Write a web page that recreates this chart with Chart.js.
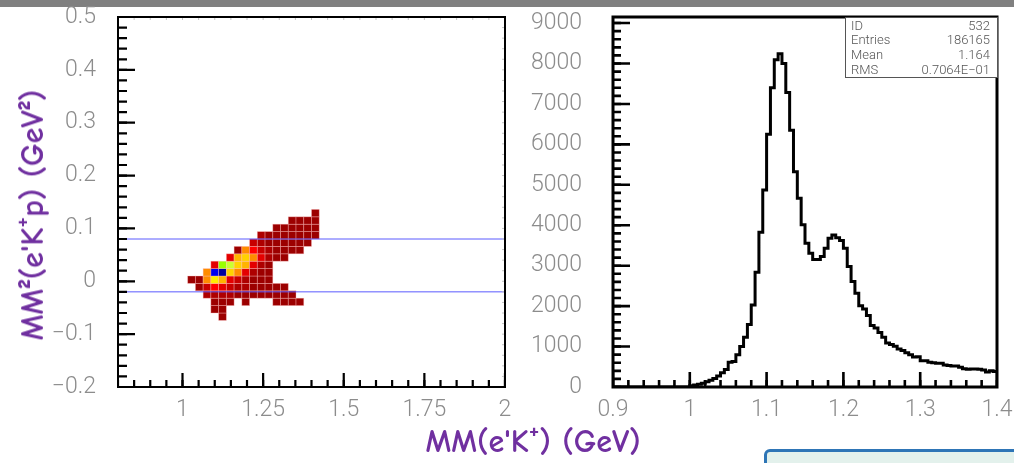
<!DOCTYPE html>
<html>
<head>
<meta charset="utf-8">
<script src="https://cdn.jsdelivr.net/npm/chart.js@4/dist/chart.umd.min.js"></script>
<style>
  html, body { margin: 0; padding: 0; background: #fff; }
  body { width: 1014px; height: 463px; position: relative; overflow: hidden; }
  #topbar { position: absolute; left: 0; top: 0; width: 1014px; height: 7px; background: #808080; }
  canvas { position: absolute; top: 0; }
  #cvMap { left: 0; }
  #cvHist { left: 510px; }
  .axtitle { position: absolute; color: #7030a0; font-family: "Comic Sans MS", "Comic Neue", Lato, sans-serif;
             font-size: 32px; font-weight: 700; white-space: nowrap; line-height: 1; }
  #ytitle { left: 33px; top: 215px; transform: translate(-50%, -50%) rotate(-90deg); }
  #xtitle { left: 533px; top: 442px; transform: translate(-50%, -50%); }
  #note { position: absolute; left: 764px; top: 449px; width: 300px; height: 60px;
          border: 3px solid #2e75b6; border-radius: 6px; background: #e3f1ec; }
</style>
</head>
<body>
<div id="topbar"></div>
<canvas id="cvMap" width="520" height="430"></canvas>
<canvas id="cvHist" width="504" height="430"></canvas>
<div class="axtitle" id="ytitle">MM²(e'K⁺p) (GeV²)</div>
<div class="axtitle" id="xtitle">MM(e'K⁺) (GeV)</div>
<div id="note"></div>

<script>
// ---------- 2D map: MM²(e'K+p) vs MM(e'K+), 50 x 50 bins ----------
const MM_LO = 0.8, MM_HI = 2.0, MM_NBIN = 50;
const MM2_LO = -0.2, MM2_HI = 0.5, MM2_NBIN = 50;

// one entry per filled MM² row: row bin, first MM bin, cell contents (0 = empty)
const mapRowBin   = [9, 10, 11, 12, 13, 14, 15, 16, 17, 18, 19, 20, 21, 22, 23];
const mapRowStart = [13, 12, 12, 11, 10, 9, 11, 12, 14, 15, 17, 18, 20, 22, 25];
const mapRowCells = [
  [1],
  [1, 1],
  [1, 1, 1, 0, 1, 0, 0, 0, 1, 1, 1, 1],
  [2, 2, 2, 2, 1, 1, 1, 1, 1, 1, 1, 1],
  [1, 3, 5, 4, 3, 2, 2, 1, 1, 1, 1, 1],
  [1, 1, 6, 9, 7, 4, 3, 2, 1, 1, 1],
  [6, 12, 13, 8, 6, 4, 2, 1, 1],
  [4, 11, 10, 8, 7, 4, 2, 1],
  [4, 7, 8, 6, 4, 2, 1, 1],
  [1, 6, 5, 3, 2, 1, 1, 1, 1],
  [3, 2, 1, 1, 1, 1, 1, 1],
  [2, 1, 1, 1, 1, 1, 1, 1],
  [1, 1, 1, 1, 1, 1],
  [1, 1, 1, 1],
  [1]
];
// MM² selection window
const mm2CutLow = -0.02, mm2CutHigh = 0.08;

const mapXTickValues = [1, 1.25, 1.5, 1.75, 2];
const mapXTickLabels = ['1', '1.25', '1.5', '1.75', '2'];
const mapYTickValues = [-0.2, -0.1, 0, 0.1, 0.2, 0.3, 0.4, 0.5];
const mapYTickLabels = ['\u22120.2', '\u22120.1', '0', '0.1', '0.2', '0.3', '0.4', '0.5'];

// ---------- 1D histogram: MM(e'K+), 100 bins 0.9–1.4 ----------
const HIST_LO = 0.9, HIST_HI = 1.4, HIST_NBIN = 100;
const histCounts = [
  0, 0, 0, 0, 0, 0, 0, 0, 0, 0,
  0, 0, 0, 0, 0, 0, 0, 0, 0, 0,
  30, 50, 70, 90, 130, 170, 210, 270, 350, 430,
  610, 630, 795, 1000, 1230, 1545, 2030, 2840, 3830, 4870,
  6250, 7400, 8090, 8240, 8000, 7280, 6350, 5325, 4670, 4010,
  3555, 3310, 3150, 3150, 3230, 3430, 3680, 3760, 3690, 3620,
  3430, 2980, 2610, 2320, 2010, 1930, 1770, 1520, 1460, 1350,
  1230, 1090, 1050, 1010, 940, 900, 850, 800, 740, 745,
  650, 650, 615, 600, 585, 585, 545, 530, 518, 518,
  490, 450, 436, 444, 444, 440, 420, 370, 400, 385
];
const HIST_YMAX = 9150;
const histXTickValues = [0.9, 1.0, 1.1, 1.2, 1.3, 1.4];
const histXTickLabels = ['0.9', '1', '1.1', '1.2', '1.3', '1.4'];
const histYTickValues = [0, 1000, 2000, 3000, 4000, 5000, 6000, 7000, 8000, 9000];
const histYTickLabels = ['0', '1000', '2000', '3000', '4000', '5000', '6000', '7000', '8000', '9000'];

const statLabels = ['ID', 'Entries', 'Mean', 'RMS'];
const statValues = ['532', '186165', '1.164', '0.7064E\u221201'];

// colour scale of the map, indexed by cell content level
const levelColors = [null, '#9c0000', '#ae0000', '#c80000', '#e40000', '#ff0000',
  '#ff8c00', '#ffb400', '#ffd200', '#ffee00', '#ccff30', '#99ff00', '#0000f0', '#00009c'];

// ---------- helpers ----------
function stepRange(lo, hi, step) {
  const out = [];
  const n = Math.round((hi - lo) / step);
  for (let k = 0; k <= n; k++) out.push(lo + k * step);
  return out;
}

const TICK_FONT = { family: 'Roboto, "DejaVu Sans", sans-serif', size: 23, weight: 300 };
const TICK_COLOR = '#8c8c8c';

// frame and inward tick marks drawn through the chart's own scales
function frameTicks(cfg) {
  return {
    id: 'frameTicks',
    afterDraw(chart) {
      const { ctx, chartArea: a, scales: { x, y } } = chart;
      ctx.save();
      ctx.beginPath();
      ctx.rect(a.left, a.top, a.width, a.height);
      ctx.clip();
      ctx.strokeStyle = '#000';
      ctx.lineCap = 'butt';
      const xt = (vals, len, w) => {
        ctx.lineWidth = w; ctx.beginPath();
        vals.forEach(v => { const p = x.getPixelForValue(v); ctx.moveTo(p, a.bottom); ctx.lineTo(p, a.bottom - len); });
        ctx.stroke();
      };
      const yt = (vals, len, w) => {
        ctx.lineWidth = w; ctx.beginPath();
        vals.forEach(v => { const p = y.getPixelForValue(v); ctx.moveTo(a.left, p); ctx.lineTo(a.left + len, p); });
        ctx.stroke();
      };
      xt(cfg.xMinor, cfg.xMinorLen, cfg.tickW);
      xt(cfg.xMajor, cfg.xMajorLen, cfg.tickW);
      yt(cfg.yMinor, cfg.yMinorLen, cfg.tickW);
      yt(cfg.yMajor, cfg.yMajorLen, cfg.tickW);
      if (cfg.faint) {
        ctx.strokeStyle = '#c4c4c4'; ctx.lineWidth = 1; ctx.beginPath();
        cfg.xMinor.forEach(v => { const p = x.getPixelForValue(v); ctx.moveTo(p, a.top); ctx.lineTo(p, a.top + 3); });
        cfg.yMinor.forEach(v => { const p = y.getPixelForValue(v); ctx.moveTo(a.right, p); ctx.lineTo(a.right - 3, p); });
        ctx.stroke();
      }
      ctx.restore();
      ctx.save();
      ctx.strokeStyle = '#000';
      ctx.lineWidth = cfg.frameW;
      ctx.strokeRect(a.left, a.top, a.width, a.height);
      ctx.restore();
    }
  };
}

function noScalePadding(s) {
  s.paddingTop = 0; s.paddingBottom = 0; s.paddingLeft = 0; s.paddingRight = 0;
}

// ---------- left: 2D map ----------
const MM_BIN = (MM_HI - MM_LO) / MM_NBIN;
const MM2_BIN = (MM2_HI - MM2_LO) / MM2_NBIN;
const mapCells = [];
mapRowBin.forEach((j, r) => {
  mapRowCells[r].forEach((z, c) => {
    if (z > 0) {
      const i = mapRowStart[r] + c;
      mapCells.push({ x: MM_LO + (i + 0.5) * MM_BIN, y: MM2_LO + (j + 0.5) * MM2_BIN, z: z });
    }
  });
});

const cellPainter = {
  id: 'cellPainter',
  beforeDatasetsDraw(chart) {
    const { ctx, chartArea: a, scales: { x, y } } = chart;
    const data = chart.data.datasets[0].data;
    ctx.save();
    ctx.beginPath(); ctx.rect(a.left, a.top, a.width, a.height); ctx.clip();
    data.forEach(c => {
      const x0 = x.getPixelForValue(c.x - MM_BIN / 2), x1 = x.getPixelForValue(c.x + MM_BIN / 2);
      const y0 = y.getPixelForValue(c.y + MM2_BIN / 2), y1 = y.getPixelForValue(c.y - MM2_BIN / 2);
      ctx.fillStyle = levelColors[c.z];
      ctx.fillRect(x0, y0, x1 - x0, y1 - y0);
      ctx.strokeStyle = 'rgba(255,190,190,0.45)';
      ctx.lineWidth = 0.8;
      ctx.strokeRect(x0, y0, x1 - x0, y1 - y0);
    });
    ctx.restore();
  }
};

new Chart(document.getElementById('cvMap'), {
  type: 'scatter',
  data: {
    datasets: [
      { data: mapCells, pointRadius: 0, showLine: false },
      { data: [{ x: MM_LO, y: mm2CutHigh }, { x: MM_HI, y: mm2CutHigh }], showLine: true,
        borderColor: '#5a5aff', borderWidth: 1, pointRadius: 0 },
      { data: [{ x: MM_LO, y: mm2CutLow }, { x: MM_HI, y: mm2CutLow }], showLine: true,
        borderColor: '#5a5aff', borderWidth: 1, pointRadius: 0 }
    ]
  },
  options: {
    responsive: false, animation: false, devicePixelRatio: 1,
    layout: { autoPadding: false, padding: { top: 17, right: 15, bottom: 0, left: 0 } },
    plugins: { legend: { display: false }, tooltip: { enabled: false } },
    scales: {
      x: {
        type: 'linear', min: MM_LO, max: MM_HI,
        grid: { display: false, drawTicks: false, tickLength: 0 }, border: { display: false },
        afterBuildTicks: s => { s.ticks = mapXTickValues.map(v => ({ value: v })); },
        afterFit: s => { s.height = 43; noScalePadding(s); },
        ticks: { autoSkip: false, maxRotation: 0, padding: 9, color: TICK_COLOR, font: TICK_FONT,
                 callback: (v, i) => mapXTickLabels[i] }
      },
      y: {
        type: 'linear', min: MM2_LO, max: MM2_HI,
        grid: { display: false, drawTicks: false, tickLength: 0 }, border: { display: false },
        afterBuildTicks: s => { s.ticks = mapYTickValues.map(v => ({ value: v })); },
        afterFit: s => { s.width = 118; noScalePadding(s); },
        ticks: { autoSkip: false, padding: 22, color: TICK_COLOR, font: TICK_FONT,
                 callback: (v, i) => mapYTickLabels[i] }
      }
    }
  },
  plugins: [cellPainter, frameTicks({
    xMajor: mapXTickValues, xMinor: stepRange(MM_LO, MM_HI, 0.05),
    yMajor: mapYTickValues, yMinor: stepRange(MM2_LO, MM2_HI, 0.02),
    xMajorLen: 14, xMinorLen: 7, yMajorLen: 17, yMinorLen: 9, tickW: 2.2, frameW: 2, faint: true
  })]
});

// ---------- right: 1D histogram ----------
const HIST_BIN = (HIST_HI - HIST_LO) / HIST_NBIN;
const histPoints = histCounts.map((c, k) => ({ x: HIST_LO + k * HIST_BIN, y: c }));
histPoints.push({ x: HIST_HI, y: histCounts[HIST_NBIN - 1] });

const statBox = {
  id: 'statBox',
  afterDraw(chart) {
    const { ctx, chartArea: a } = chart;
    const w = 152, h = 60;
    const left = a.right - w, top = a.top;
    ctx.save();
    ctx.fillStyle = '#fff';
    ctx.fillRect(left, top, w, h);
    ctx.strokeStyle = '#555';
    ctx.lineWidth = 1;
    ctx.strokeRect(left + 0.5, top + 0.5, w, h);
    ctx.font = '300 13px Roboto, "DejaVu Sans", sans-serif';
    ctx.fillStyle = '#555';
    ctx.textBaseline = 'middle';
    statLabels.forEach((lab, r) => {
      const yy = top + 9.5 + r * 14.7;
      ctx.textAlign = 'left';
      ctx.fillText(lab, left + 6, yy);
      ctx.textAlign = 'right';
      ctx.fillText(statValues[r], a.right - 7, yy);
    });
    ctx.restore();
  }
};

new Chart(document.getElementById('cvHist'), {
  type: 'line',
  data: {
    datasets: [{ data: histPoints, stepped: true, borderColor: '#000', borderWidth: 3,
                 pointRadius: 0, fill: false, tension: 0, borderJoinStyle: 'miter' }]
  },
  options: {
    responsive: false, animation: false, devicePixelRatio: 1,
    layout: { autoPadding: false, padding: { top: 17, right: 17, bottom: 0, left: 0 } },
    plugins: { legend: { display: false }, tooltip: { enabled: false } },
    scales: {
      x: {
        type: 'linear', min: HIST_LO, max: HIST_HI,
        grid: { display: false, drawTicks: false, tickLength: 0 }, border: { display: false },
        afterBuildTicks: s => { s.ticks = histXTickValues.map(v => ({ value: v })); },
        afterFit: s => { s.height = 43; noScalePadding(s); },
        ticks: { autoSkip: false, maxRotation: 0, padding: 9, color: TICK_COLOR, font: TICK_FONT,
                 callback: (v, i) => histXTickLabels[i] }
      },
      y: {
        type: 'linear', min: 0, max: HIST_YMAX,
        grid: { display: false, drawTicks: false, tickLength: 0 }, border: { display: false },
        afterBuildTicks: s => { s.ticks = histYTickValues.map(v => ({ value: v })); },
        afterFit: s => { s.width = 103; noScalePadding(s); },
        ticks: { autoSkip: false, padding: 31, color: TICK_COLOR, font: TICK_FONT,
                 callback: (v, i) => histYTickLabels[i] }
      }
    }
  },
  plugins: [frameTicks({
    xMajor: histXTickValues, xMinor: stepRange(HIST_LO, HIST_HI, 0.02),
    yMajor: histYTickValues, yMinor: stepRange(0, 9000, 200),
    xMajorLen: 15, xMinorLen: 7, yMajorLen: 17, yMinorLen: 8, tickW: 2.6, frameW: 3, faint: false
  }), statBox]
});
</script>
</body>
</html>
